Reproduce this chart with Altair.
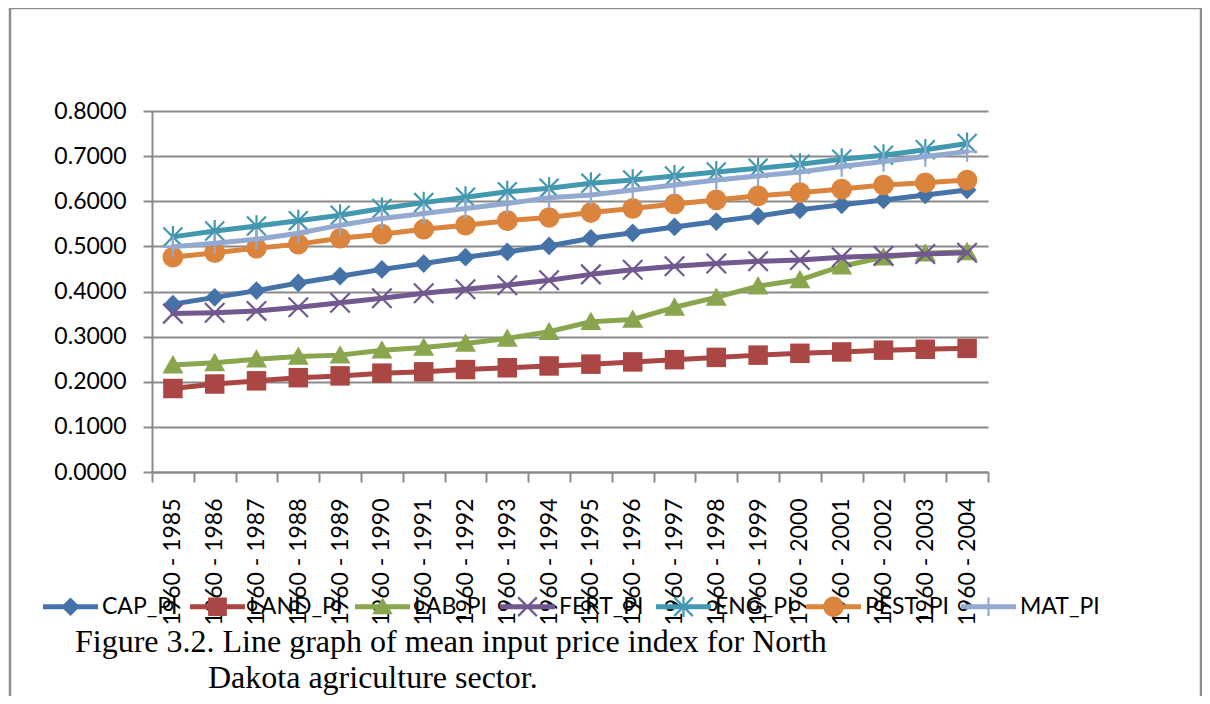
import math
import altair as alt
import pandas as pd

periods = ["1960 - 1985", "1960 - 1986", "1960 - 1987", "1960 - 1988", "1960 - 1989",
           "1960 - 1990", "1960 - 1991", "1960 - 1992", "1960 - 1993", "1960 - 1994",
           "1960 - 1995", "1960 - 1996", "1960 - 1997", "1960 - 1998", "1960 - 1999",
           "1960 - 2000", "1960 - 2001", "1960 - 2002", "1960 - 2003", "1960 - 2004"]

series = ["CAP_PI", "LAND_PI", "LAB_PI", "FERT_PI", "ENG_PI", "PEST_PI", "MAT_PI"]

cap_pi = [0.372, 0.387, 0.402, 0.419, 0.434, 0.449, 0.462, 0.476, 0.488, 0.501,
          0.518, 0.530, 0.543, 0.555, 0.567, 0.581, 0.592, 0.603, 0.614, 0.625]
land_pi = [0.185, 0.195, 0.202, 0.209, 0.213, 0.219, 0.222, 0.227, 0.231, 0.235,
           0.239, 0.244, 0.249, 0.254, 0.259, 0.263, 0.266, 0.270, 0.272, 0.274]
lab_pi = [0.237, 0.242, 0.250, 0.256, 0.259, 0.270, 0.276, 0.285, 0.296, 0.311,
          0.333, 0.338, 0.365, 0.387, 0.412, 0.426, 0.456, 0.476, 0.485, 0.488]
fert_pi = [0.351, 0.353, 0.357, 0.365, 0.375, 0.385, 0.396, 0.405, 0.414, 0.425,
           0.438, 0.448, 0.456, 0.462, 0.467, 0.470, 0.476, 0.479, 0.483, 0.486]
eng_pi = [0.521, 0.534, 0.545, 0.557, 0.569, 0.584, 0.597, 0.609, 0.621, 0.629,
          0.640, 0.647, 0.656, 0.665, 0.673, 0.682, 0.693, 0.702, 0.714, 0.728]
pest_pi = [0.476, 0.486, 0.496, 0.505, 0.518, 0.527, 0.538, 0.547, 0.557, 0.564,
           0.575, 0.584, 0.594, 0.603, 0.612, 0.619, 0.627, 0.636, 0.641, 0.647]
mat_pi = [0.499, 0.507, 0.516, 0.529, 0.547, 0.562, 0.573, 0.584, 0.595, 0.608,
          0.614, 0.625, 0.636, 0.647, 0.656, 0.665, 0.677, 0.688, 0.699, 0.710]

y_ticks = [0.0, 0.1, 0.2, 0.3, 0.4, 0.5, 0.6, 0.7, 0.8]

caption_line1 = "Figure 3.2. Line graph of mean input price index for North"
caption_line2 = "Dakota agriculture sector."

colors = ["#4572A7", "#AA4643", "#89A54E", "#71588F", "#4198AF", "#DB843D", "#93A9CF"]

values_by_series = [cap_pi, land_pi, lab_pi, fert_pi, eng_pi, pest_pi, mat_pi]
rows = []
for s, vals in zip(series, values_by_series):
    for p, v in zip(periods, vals):
        rows.append({"period": p, "series": s, "value": v})
df = pd.DataFrame(rows)

# ---- marker shapes (unit box -1..1) ----
def poly(pts):
    area = sum(pts[i][0] * pts[(i + 1) % len(pts)][1] - pts[(i + 1) % len(pts)][0] * pts[i][1]
               for i in range(len(pts)))
    if area < 0:
        pts = list(reversed(pts))
    return "M" + "L".join(f"{x:.4f},{y:.4f}" for x, y in pts) + "Z"

def bar(x1, y1, x2, y2, w):
    dx, dy = x2 - x1, y2 - y1
    L = math.hypot(dx, dy)
    nx, ny = -dy / L * w, dx / L * w
    return poly([(x1 + nx, y1 + ny), (x2 + nx, y2 + ny), (x2 - nx, y2 - ny), (x1 - nx, y1 - ny)])

chart_shapes = [
    "M0,-1L1,0L0,1L-1,0Z",
    "M-1,-1L1,-1L1,1L-1,1Z",
    "M0,-0.95L1,0.8L-1,0.8Z",
    "M-1,-1L1,1M-1,1L1,-1",
    "M-1,-1L1,1M-1,1L1,-1M0,-1.15L0,1.15",
    "circle",
    "M-1,0L1,0M0,-1L0,1",
]
chart_sizes = [350, 380, 440, 380, 360, 430, 420]
chart_filled = [True, True, True, False, False, True, False]

m = 0.34
lw = 0.09
sw = 0.04
line_rect = poly([(-1, -lw), (1, -lw), (1, lw), (-1, lw)])
r = 0.37
circle_path = f"M{-r},0A{r},{r} 0 1 1 {r},0A{r},{r} 0 1 1 {-r},0Z"
legend_shapes = [
    line_rect + poly([(0, -m), (m, 0), (0, m), (-m, 0)]),
    line_rect + poly([(-m, -m), (m, -m), (m, m), (-m, m)]),
    line_rect + poly([(0, -m), (m * 1.1, m * 0.8), (-m * 1.1, m * 0.8)]),
    line_rect + bar(-m, -m, m, m, sw) + bar(-m, m, m, -m, sw),
    line_rect + bar(-m, -m, m, m, sw) + bar(-m, m, m, -m, sw) + bar(0, -m * 1.1, 0, m * 1.1, sw),
    line_rect + circle_path,
    line_rect + bar(0, -m, 0, m, sw),
]

FONT = "Lato"
GRID = "#8a8a8a"

x_enc = alt.X("period:N", sort=periods, bandPosition=0.5,
              scale=alt.Scale(type="band", domain=periods, paddingInner=0, paddingOuter=0),
              axis=alt.Axis(title=None, tickBand="extent", tickSize=10, labelAngle=-90,
                            labelPadding=16, grid=False, labelFont=FONT, labelFontSize=23,
                            labelColor="black", domainColor=GRID, tickColor=GRID,
                            domainWidth=2, tickWidth=2))
y_enc = alt.Y("value:Q", scale=alt.Scale(domain=[0, 0.8], nice=False, zero=True),
              axis=alt.Axis(title=None, values=y_ticks, format=".4f", tickSize=9,
                            labelPadding=17, labelFont=FONT, labelFontSize=23,
                            labelColor="black", grid=True, gridColor=GRID, gridWidth=2,
                            domainColor=GRID, tickColor=GRID, domainWidth=2, tickWidth=2))

one = pd.DataFrame({"k": [0]})
frame = alt.Chart(one).mark_rect(fillOpacity=0, stroke="#8c8c8c", strokeWidth=2.5).encode(
    x=alt.value(-142), x2=alt.value(1049), y=alt.value(-103), y2=alt.value(640))

layers = [frame]
for s, c, shp, sz, fl in zip(series, colors, chart_shapes, chart_sizes, chart_filled):
    base = alt.Chart(df).transform_filter(alt.datum.series == s)
    layers.append(base.mark_line(color=c, strokeWidth=5, strokeCap="round",
                                 strokeJoin="round").encode(x=x_enc, y=y_enc))
    if fl:
        pm = base.mark_point(shape=shp, size=sz, filled=True, color=c, opacity=1)
    else:
        pm = base.mark_point(shape=shp, size=sz, filled=False, color=c, opacity=1, strokeWidth=2.2)
    layers.append(pm.encode(x=x_enc, y=y_enc))

legend_props = dict(title=None, orient="none", legendX=-109, legendY=468, direction="horizontal",
                    columns=7, symbolSize=3025, symbolStrokeWidth=0, symbolOpacity=1,
                    labelFont=FONT, labelFontSize=23, labelColor="black", labelOffset=4,
                    columnPadding=12, padding=0)
legend_layer = alt.Chart(df).transform_filter("false").mark_point(filled=True, opacity=1).encode(
    x=x_enc, y=y_enc,
    color=alt.Color("series:N", scale=alt.Scale(domain=series, range=colors),
                    legend=alt.Legend(**legend_props)),
    shape=alt.Shape("series:N", scale=alt.Scale(domain=series, range=legend_shapes),
                    legend=alt.Legend(**legend_props)),
)
layers.append(legend_layer)

cap1 = alt.Chart(pd.DataFrame({"t": [caption_line1]})).mark_text(
    align="left", baseline="alphabetic", font="Liberation Serif", fontSize=32, color="black"
).encode(x=alt.value(-77), y=alt.value(541), text="t:N")
cap2 = alt.Chart(pd.DataFrame({"t": [caption_line2]})).mark_text(
    align="left", baseline="alphabetic", font="Liberation Serif", fontSize=32, color="black"
).encode(x=alt.value(56), y=alt.value(577), text="t:N")
layers += [cap1, cap2]

chart = alt.layer(*layers).properties(
    width=836, height=361,
    autosize=alt.AutoSizeParams(type="none"),
    padding={"left": 144, "top": 103, "right": 214, "bottom": 224},
    background="white",
).configure_view(stroke=None)

chart.save("out.html", embed_options={"renderer": "svg", "actions": False})
